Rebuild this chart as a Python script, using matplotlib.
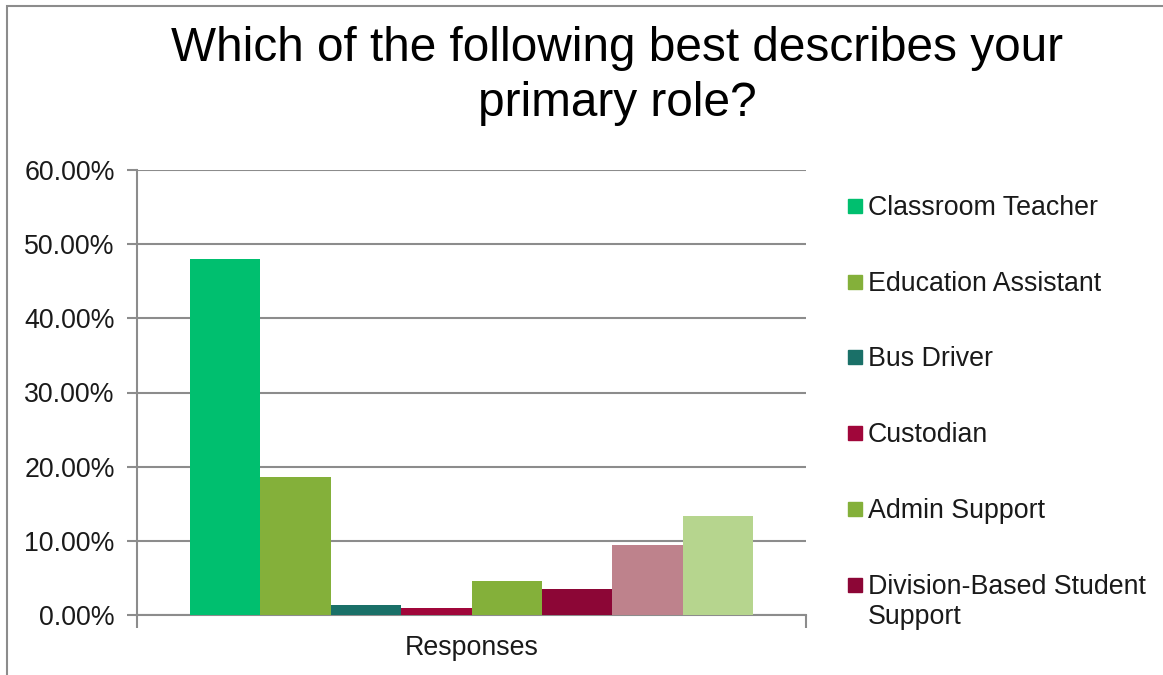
import matplotlib.pyplot as plt
from matplotlib.patches import Rectangle
from matplotlib.ticker import FuncFormatter

plt.rcParams['font.family'] = ['Liberation Sans', 'DejaVu Sans']

# Survey data (share of responses)
roles = ["Classroom Teacher", "Education Assistant", "Bus Driver", "Custodian",
         "Admin Support", "Division-Based Student\nSupport",
         "School-Based Leadership", "Other"]
shares = [48.0, 18.6, 1.35, 0.95, 4.6, 3.5, 9.4, 13.3]
colors = ["#00BF6F", "#84B03A", "#1A7068", "#A0063A",
          "#84B03A", "#8C0636", "#BE828C", "#B6D58E"]
n_legend = 6  # the legend in the original is cut off after six entries

title = "Which of the following best describes your\nprimary role?"
category = "Responses"

W, H = 1163, 675
fs = 19.3
fig = plt.figure(figsize=(W / 100, H / 100), dpi=100)

# outer chart border (cropped on right and bottom)
fig.add_artist(Rectangle((7 / W, -0.1), 1.2, 1.1 - 6 / H, transform=fig.transFigure,
                         fill=False, edgecolor="#8c8c8c", linewidth=1.5))

ax = fig.add_axes([137 / W, 1 - 615 / H, (806 - 137) / W, (615 - 170) / H])

bw = 0.1052
n = len(shares)
for i, (v, c) in enumerate(zip(shares, colors)):
    ax.bar((i - (n - 1) / 2) * bw, v, width=bw, color=c, zorder=3)

ax.set_xlim(-0.5, 0.5)
ax.set_ylim(0, 60)
ax.set_yticks(range(0, 61, 10))
ax.yaxis.set_major_formatter(FuncFormatter(lambda v, p: f"{v:.2f}%"))
ax.set_xticks([-0.5, 0.5])
ax.set_xticklabels(["", ""])
ax.text(0.5, -33 / 445, category, transform=ax.transAxes, ha="center", va="center",
        fontsize=fs, color="#1a1a1a")

ax.grid(axis="y", color="#8c8c8c", linewidth=1.5, zorder=0)
for s in ["top", "right"]:
    ax.spines[s].set_visible(False)
for s in ["left", "bottom"]:
    ax.spines[s].set_color("#8c8c8c")
    ax.spines[s].set_linewidth(1.5)
ax.tick_params(axis="y", length=7, width=1.5, color="#8c8c8c", labelsize=fs,
               labelcolor="#1a1a1a", pad=9)
ax.tick_params(axis="x", length=9, width=1.5, color="#8c8c8c")

fig.text(617 / W, 1 - 26 / H, title, ha="center", va="top", fontsize=34.4,
         linespacing=1.29, color="black")

# legend, drawn by hand to match the original spacing
leg_y = [206, 282, 357, 433, 509, 585]
for i in range(n_legend):
    y = leg_y[i]
    fig.add_artist(Rectangle((848 / W, 1 - (y + 7) / H), 14 / W, 14 / H,
                             transform=fig.transFigure, color=colors[i]))
    fig.text(868 / W, 1 - (y - 11) / H, roles[i], ha="left", va="top",
             fontsize=fs, color="#1a1a1a", linespacing=1.2)

fig.savefig("out.png", dpi=100)
